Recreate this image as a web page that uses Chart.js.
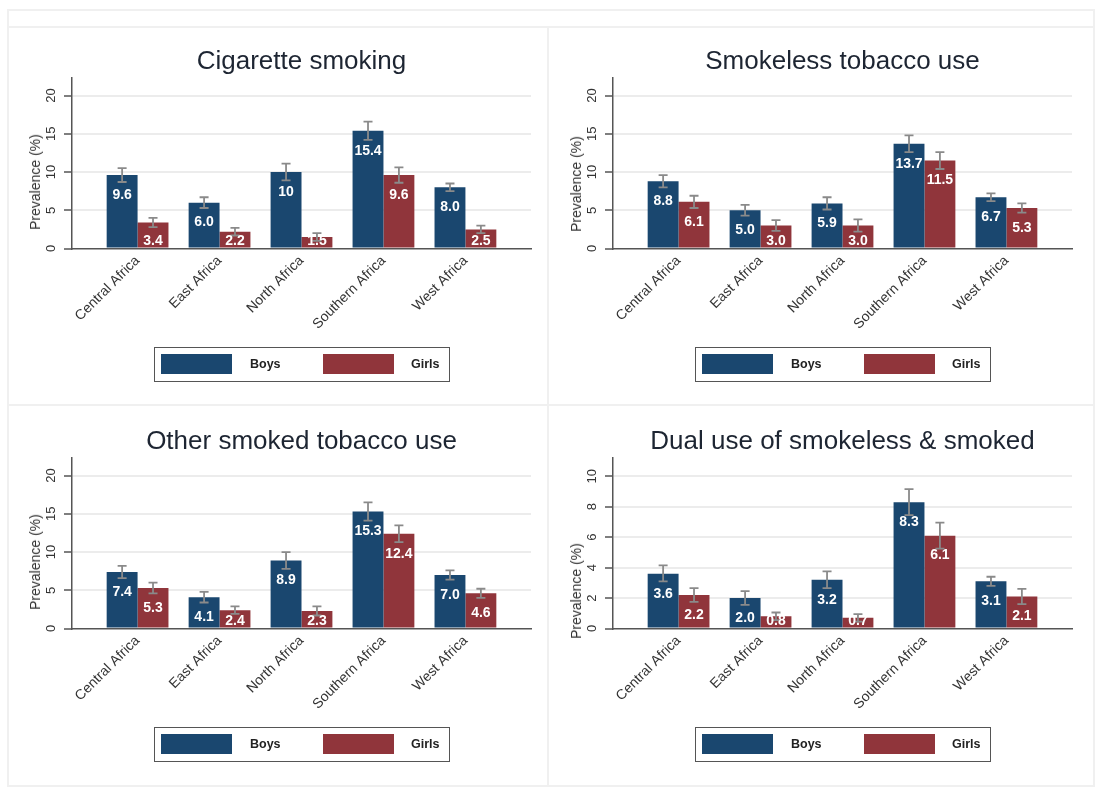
<!DOCTYPE html>
<html>
<head>
<meta charset="utf-8">
<title>Tobacco use by region and sex</title>
<script src="https://cdn.jsdelivr.net/npm/chart.js@4.4.1/dist/chart.umd.min.js"></script>
<style>
  body { margin: 0; background: #fff; width: 1108px; height: 793px; overflow: hidden; position: relative;
         font-family: "Liberation Sans", Arial, sans-serif; }
  .frame { position: absolute; background: #f0f0f0; }
  .panel { position: absolute; width: 541px; height: 380px; }
  .panel canvas { position: absolute; left: 0; top: 0; }
  .ytitle { position: absolute; font-size: 14px; color: #333; white-space: nowrap;
            transform: translate(-50%, -50%) rotate(-90deg); }
  .legend { position: absolute; left: 154px; top: 347px; width: 296px; height: 35px;
            border: 1.5px solid #555; box-sizing: border-box; }
  .legend i { position: absolute; top: 5.5px; width: 71px; height: 20px; }
  .legend span { position: absolute; top: 0; line-height: 32px; font-size: 12.5px; font-weight: bold; color: #222; }
</style>
</head>
<body>
<script>
const FONT = '"Liberation Sans", Arial, sans-serif';
const NAVY = '#1a476f';
const MAROON = '#90353b';

const regions = ['Central Africa', 'East Africa', 'North Africa', 'Southern Africa', 'West Africa'];
const titles = ['Cigarette smoking', 'Smokeless tobacco use', 'Other smoked tobacco use', 'Dual use of smokeless & smoked'];

// prevalence (%) with the ends of the error bars
const cigBoys = [9.6, 6.0, 10, 15.4, 8.0];
const cigBoysLo = [8.7, 5.3, 8.9, 14.2, 7.5];
const cigBoysHi = [10.5, 6.7, 11.1, 16.6, 8.5];
const cigGirls = [3.4, 2.2, 1.5, 9.6, 2.5];
const cigGirlsLo = [2.8, 1.7, 1.0, 8.6, 2.0];
const cigGirlsHi = [4.0, 2.7, 2.0, 10.6, 3.0];

const slBoys = [8.8, 5.0, 5.9, 13.7, 6.7];
const slBoysLo = [8.0, 4.3, 5.1, 12.6, 6.2];
const slBoysHi = [9.6, 5.7, 6.7, 14.8, 7.2];
const slGirls = [6.1, 3.0, 3.0, 11.5, 5.3];
const slGirlsLo = [5.3, 2.3, 2.2, 10.4, 4.7];
const slGirlsHi = [6.9, 3.7, 3.8, 12.6, 5.9];

const osBoys = [7.4, 4.1, 8.9, 15.3, 7.0];
const osBoysLo = [6.6, 3.4, 7.8, 14.1, 6.4];
const osBoysHi = [8.2, 4.8, 10.0, 16.5, 7.6];
const osGirls = [5.3, 2.4, 2.3, 12.4, 4.6];
const osGirlsLo = [4.6, 1.9, 1.7, 11.3, 4.0];
const osGirlsHi = [6.0, 2.9, 2.9, 13.5, 5.2];

const dualBoys = [3.6, 2.0, 3.2, 8.3, 3.1];
const dualBoysLo = [3.1, 1.55, 2.65, 7.45, 2.8];
const dualBoysHi = [4.15, 2.45, 3.75, 9.15, 3.4];
const dualGirls = [2.2, 0.8, 0.7, 6.1, 2.1];
const dualGirlsLo = [1.75, 0.55, 0.45, 5.25, 1.6];
const dualGirlsHi = [2.65, 1.05, 0.95, 6.95, 2.6];

const yMaxes = [22.3, 22.3, 22.3, 11.2];
const ySteps = [5, 5, 5, 2];

const panels = [
  { title: titles[0], boys: [cigBoys, cigBoysLo, cigBoysHi], girls: [cigGirls, cigGirlsLo, cigGirlsHi] },
  { title: titles[1], boys: [slBoys, slBoysLo, slBoysHi], girls: [slGirls, slGirlsLo, slGirlsHi] },
  { title: titles[2], boys: [osBoys, osBoysLo, osBoysHi], girls: [osGirls, osGirlsLo, osGirlsHi] },
  { title: titles[3], boys: [dualBoys, dualBoysLo, dualBoysHi], girls: [dualGirls, dualGirlsLo, dualGirlsHi] },
];

// page layout
const panelPos = [[0, 0], [541, 0], [0, 380], [541, 380]];
const yTitleTop = [182, 184, 182, 211];
const frames = [
  [8, 9, 1087, 2], [8, 26, 1087, 2], [8, 404, 1087, 2], [8, 785, 1087, 2],
  [7, 9, 2, 778], [547, 26, 2, 761], [1093, 9, 2, 778],
];

function fmt(v) {
  return Number.isInteger(v) && v >= 10 ? String(v) : v.toFixed(1);
}

// error bars and the value labels inside the bars
const barExtras = {
  id: 'barExtras',
  afterDatasetsDraw(chart) {
    const { ctx, chartArea, scales: { y } } = chart;
    ctx.save();
    ctx.strokeStyle = '#8a8a8a';
    ctx.lineWidth = 1.8;
    chart.data.datasets.forEach((ds, di) => {
      chart.getDatasetMeta(di).data.forEach((bar, i) => {
        const top = y.getPixelForValue(ds.hi[i]);
        const bot = y.getPixelForValue(ds.lo[i]);
        ctx.beginPath();
        ctx.moveTo(bar.x, top); ctx.lineTo(bar.x, bot);
        ctx.moveTo(bar.x - 4.5, top); ctx.lineTo(bar.x + 4.5, top);
        ctx.moveTo(bar.x - 4.5, bot); ctx.lineTo(bar.x + 4.5, bot);
        ctx.stroke();
      });
    });
    ctx.beginPath();
    ctx.rect(chartArea.left, chartArea.top, chartArea.width, chartArea.height);
    ctx.clip();
    ctx.fillStyle = '#fff';
    ctx.font = 'bold 14px ' + FONT;
    ctx.textAlign = 'center';
    ctx.textBaseline = 'middle';
    chart.data.datasets.forEach((ds, di) => {
      chart.getDatasetMeta(di).data.forEach((bar, i) => {
        const cy = Math.min(bar.y + 20, bar.base - 6);
        ctx.fillText(fmt(ds.data[i].y), bar.x, cy);
      });
    });
    ctx.restore();
  }
};

function series(label, [vals, lo, hi], color) {
  return {
    label,
    data: vals.map((v, i) => ({ x: i + 1, y: v })),
    lo, hi,
    backgroundColor: color,
    categoryPercentage: 0.754,
    barPercentage: 1,
  };
}

for (const [x, y, w, h] of frames) {
  const d = document.createElement('div');
  d.className = 'frame';
  Object.assign(d.style, { left: x + 'px', top: y + 'px', width: w + 'px', height: h + 'px' });
  document.body.appendChild(d);
}

panels.forEach((p, k) => {
  const box = document.createElement('div');
  box.className = 'panel';
  box.style.left = panelPos[k][0] + 'px';
  box.style.top = panelPos[k][1] + 'px';
  box.innerHTML =
    `<canvas width="541" height="380"></canvas>` +
    `<div class="ytitle" style="left:35px;top:${yTitleTop[k]}px">Prevalence (%)</div>` +
    `<div class="legend">` +
    `<i style="left:6px;background:${NAVY}"></i><span style="left:95px">Boys</span>` +
    `<i style="left:168px;background:${MAROON}"></i><span style="left:256px">Girls</span>` +
    `</div>`;
  document.body.appendChild(box);

  new Chart(box.querySelector('canvas'), {
    type: 'bar',
    data: { datasets: [series('Boys', p.boys, NAVY), series('Girls', p.girls, MAROON)] },
    options: {
      responsive: false,
      animation: false,
      layout: { padding: { left: 0, right: 10, top: 0, bottom: 0 } },
      plugins: {
        legend: { display: false },
        tooltip: { enabled: false },
        title: {
          display: true, text: p.title, fullSize: false, color: '#1d2532',
          font: { family: FONT, size: 26, weight: 'normal' },
          padding: { top: 46.4, bottom: 0.4 },
        },
      },
      scales: {
        x: {
          type: 'linear', min: 0.2, max: 5.8, offset: false,
          grid: { display: false, drawTicks: false },
          border: { display: true, color: '#555', width: 1.5 },
          afterBuildTicks: s => { s.ticks = regions.map((_, i) => ({ value: i + 1 })); },
          afterFit: s => { s.height = 131.5; },
          ticks: {
            autoSkip: false, minRotation: 45, maxRotation: 45, padding: 4,
            color: '#333', font: { family: FONT, size: 14 },
            callback: v => regions[v - 1],
          },
        },
        y: {
          min: 0, max: yMaxes[k],
          afterFit: s => { s.width = 72; },
          grid: {
            color: c => (c.tick && c.tick.value === 0 ? 'rgba(0,0,0,0)' : '#ececec'),
            lineWidth: 2, tickColor: '#555', tickLength: 8, tickWidth: 1.5,
          },
          border: { display: true, color: '#555', width: 1.5 },
          ticks: {
            stepSize: ySteps[k], includeBounds: false, minRotation: 90, maxRotation: 90,
            crossAlign: 'center', padding: 5, color: '#333', font: { family: FONT, size: 13 },
          },
        },
      },
    },
    plugins: [barExtras],
  });
});
</script>
</body>
</html>
